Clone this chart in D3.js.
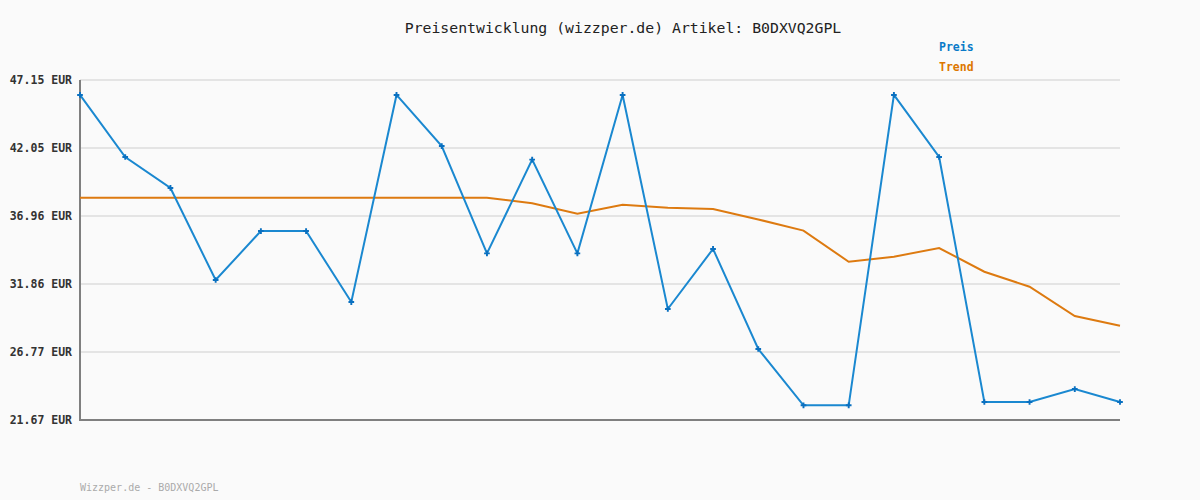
<!DOCTYPE html>
<html>
<head>
<meta charset="utf-8">
<script src="https://cdn.jsdelivr.net/npm/d3@7"></script>
<style>
  html,body{margin:0;padding:0;background:#fafafa;}
  svg{display:block;font-family:"DejaVu Sans Mono","Liberation Mono",monospace;}
</style>
</head>
<body>
<svg id="chart" width="1200" height="500"></svg>
<script>
// price history (Preis) and trend, one value per data point
const preis = [46.03,41.38,39.06,32.16,35.83,35.83,30.51,46.03,42.20,34.16,41.18,34.16,
               46.03,29.99,34.49,26.99,22.77,22.77,46.03,41.38,23.02,23.02,23.99,23.02];
const trend = [38.33,38.33,38.33,38.33,38.33,38.33,38.33,38.33,38.33,38.33,37.91,37.13,
               37.80,37.58,37.48,36.70,35.86,33.53,33.91,34.56,32.78,31.66,29.46,28.74];
const yTicks = [21.67,26.77,31.86,36.96,42.05,47.15];
const title = "Preisentwicklung (wizzper.de) Artikel: B0DXVQ2GPL";
const footer = "Wizzper.de - B0DXVQ2GPL";
const legend = [{name:"Preis",color:"#0a7ac8"},{name:"Trend",color:"#dd7700"}];

const svg = d3.select("#chart");
const m = {l:80, r:80, t:80, b:80};
const W = 1200, H = 500;

svg.append("rect").attr("width",W).attr("height",H).attr("fill","#fafafa");

const x = d3.scaleLinear().domain([0, preis.length-1]).range([m.l, W-m.r]);
const y = d3.scaleLinear().domain([21.67, 47.15]).range([H-m.b, m.t]);

// grid
svg.append("g").selectAll("line").data(yTicks.slice(1)).join("line")
  .attr("x1",m.l).attr("x2",W-m.r)
  .attr("y1",d=>y(d)).attr("y2",d=>y(d))
  .attr("stroke","#e4e4e4").attr("stroke-width",2);

// y labels
svg.append("g").selectAll("text").data(yTicks).join("text")
  .attr("x",72).attr("y",d=>y(d)).attr("dy","0.35em")
  .attr("text-anchor","end").attr("font-size","11.5px").attr("font-weight","bold")
  .attr("fill","#333").text(d=>d.toFixed(2)+" EUR");

// axes
svg.append("line").attr("x1",m.l).attr("x2",m.l).attr("y1",m.t).attr("y2",H-m.b+1)
  .attr("stroke","#7f7f7f").attr("stroke-width",2);
svg.append("line").attr("x1",m.l-1).attr("x2",W-m.r).attr("y1",H-m.b).attr("y2",H-m.b)
  .attr("stroke","#7f7f7f").attr("stroke-width",2);

const line = d3.line().x((d,i)=>x(i)).y(d=>y(d));

svg.append("path").datum(trend).attr("d",line).attr("fill","none")
  .attr("stroke","#dd7a10").attr("stroke-width",2);
svg.append("path").datum(preis).attr("d",line).attr("fill","none")
  .attr("stroke","#1a88d0").attr("stroke-width",2);

const cross = d3.symbol().type(d3.symbolCross).size(18);
svg.append("g").selectAll("path").data(preis).join("path")
  .attr("d",cross).attr("transform",(d,i)=>`translate(${x(i)},${y(d)})`)
  .attr("fill","#0a70c0");

// title
svg.append("text").attr("x",623).attr("y",33).attr("text-anchor","middle")
  .attr("font-size","14.8px").attr("fill","#222").text(title);

// legend
svg.append("g").selectAll("text").data(legend).join("text")
  .attr("x",939).attr("y",(d,i)=>47+i*20).attr("dy","0.35em")
  .attr("font-size","11.5px").attr("font-weight","bold")
  .attr("fill",d=>d.color).text(d=>d.name);

// footer
svg.append("text").attr("x",80).attr("y",491).attr("font-size","10px")
  .attr("fill","#aaa").text(footer);
</script>
</body>
</html>
